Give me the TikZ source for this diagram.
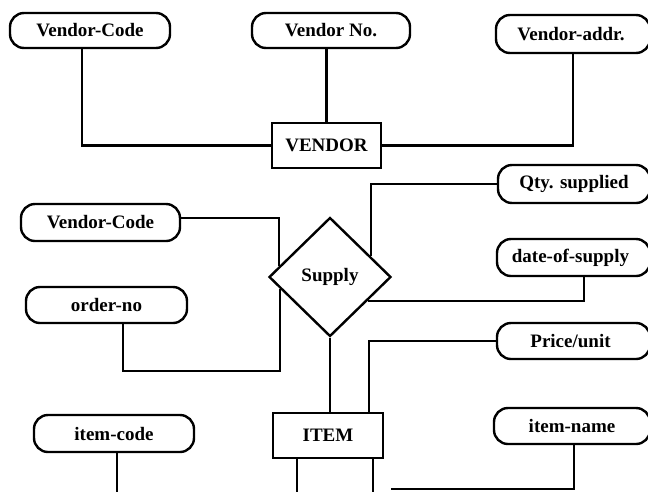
\documentclass[tikz,border=0pt]{standalone}
\usepackage{fontspec}
\setmainfont{Liberation Serif}
\usetikzlibrary{shapes.geometric,calc}

\begin{document}
\begin{tikzpicture}[x=1pt,y=-1pt,
  every node/.style={font=\fontsize{19}{22}\selectfont\bfseries, inner sep=0pt},
  attr/.style={draw, line width=2.4pt, rounded corners=14pt},
  entity/.style={draw, line width=2.4pt},
  relation/.style={draw, line width=2.4pt, diamond, aspect=1},
  link/.style={line width=2.2pt}
]
\useasboundingbox (0,0) rectangle (648,491);
\clip (0,0) rectangle (648,491);

% VENDOR entity and its attributes
\node[entity, minimum width=109pt, minimum height=45pt] (vendor) at (326.5,145.5) {VENDOR};
\node[attr, minimum width=160pt, minimum height=35pt] (vcode) at (90,30.5) {Vendor-Code};
\node[attr, minimum width=158pt, minimum height=35pt] (vno) at (331,30.5) {Vendor No.};
\node[attr, minimum width=154pt, minimum height=38pt] (vaddr) at (573,34) {\hspace*{-4pt}Vendor-addr.};

% Supply relationship and its attributes
\node[relation, minimum width=122pt, minimum height=119pt] (supply) at (330,277) {Supply};
\node[attr, minimum width=152pt, minimum height=38pt] (qty) at (574,184) {Qty. supplied};
\node[attr, minimum width=153pt, minimum height=37pt] (dos) at (573.5,257.5) {\hspace*{-6pt}date-of-supply};
\node[attr, minimum width=159pt, minimum height=37pt] (vcode2) at (100.5,222.5) {Vendor-Code};
\node[attr, minimum width=161pt, minimum height=36pt] (ordno) at (106.5,305) {order-no};

% ITEM entity and its attributes
\node[entity, minimum width=110pt, minimum height=45pt] (item) at (328,435.5) {ITEM};
\node[attr, minimum width=153pt, minimum height=36pt] (price) at (573.5,341) {\hspace*{-6pt}Price/unit};
\node[attr, minimum width=160pt, minimum height=37pt] (icode) at (114,433.5) {item-code};
\node[attr, minimum width=156pt, minimum height=36pt] (iname) at (572,426) {item-name};

% points where connectors meet the diamond's edges
\coordinate (sNE) at ($(supply.north)!0.656!(supply.east)$);
\coordinate (sNW) at ($(supply.north)!0.82!(supply.west)$);
\coordinate (sSW) at ($(supply.west)!0.197!(supply.south)$);
\coordinate (sSE) at ($(supply.east)!0.39!(supply.south)$);

% loose ends running off the bottom edge
\coordinate (icodeEnd) at (117,495);
\coordinate (itemL) at (297,495);
\coordinate (itemR) at (373,495);
\coordinate (inameEnd) at (391,489);

% connectors
\draw[link] ([xshift=-8pt]vcode.south) |- (vendor.west);
\draw[link] (vendor.north) -- (vendor.north |- vno.south);
\draw[link] (vaddr.south) |- (vendor.east);

\draw[link] (qty.west) -| (sNE);
\draw[link] ([yshift=4.5pt]vcode2.east) -| (sNW);
\draw[link] ([xshift=16.5pt]ordno.south) -- ++(0,47) -| (sSW);
\draw[link] ([xshift=10.5pt]dos.south) |- (sSE);

\draw[link] (supply.south) -- (supply.south |- item.north);
\draw[link] (price.west) -| ([xshift=41pt]item.north);

\draw[link] ([xshift=3pt]icode.south) -- (icodeEnd);
\draw[link] (item.south -| itemL) -- (itemL);
\draw[link] (item.south -| itemR) -- (itemR);
\draw[link] ([xshift=2pt]iname.south) |- (inameEnd);
\end{tikzpicture}
\end{document}
